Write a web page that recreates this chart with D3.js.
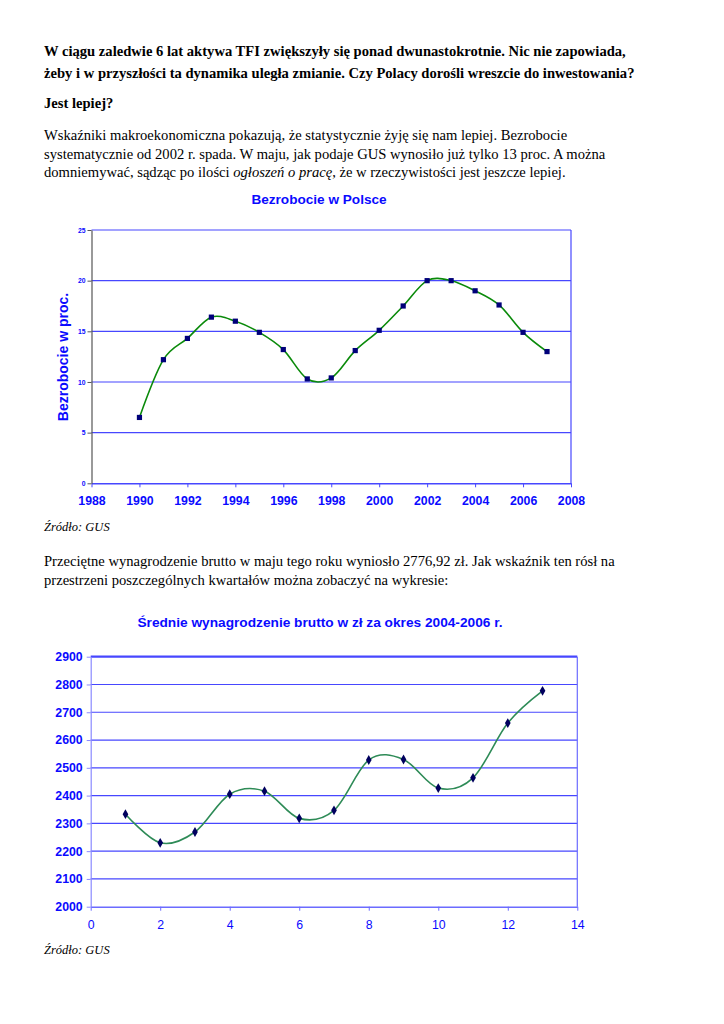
<!DOCTYPE html>
<html><head><meta charset="utf-8">
<script src="https://cdn.jsdelivr.net/npm/d3@7"></script>
<style>
html,body{margin:0;padding:0;background:#fff;}
svg{display:block;}
</style></head>
<body>
<script>
// ---------- data ----------
const unempYears = [1990,1991,1992,1993,1994,1995,1996,1997,1998,1999,2000,2001,2002,2003,2004,2005,2006,2007];
const unempValues = [6.5,12.2,14.3,16.4,16.0,14.9,13.2,10.3,10.4,13.1,15.1,17.5,20.0,20.0,19.0,17.6,14.9,13.0];
const unempXTicks = [1988,1990,1992,1994,1996,1998,2000,2002,2004,2006,2008];
const unempYTicks = [0,5,10,15,20,25];

const wageQuarters = [1,2,3,4,5,6,7,8,9,10,11,12,13];
const wageValues = [2333,2230,2269,2405,2416,2318,2347,2528,2530,2427,2464,2661,2777];
const wageXTicks = [0,2,4,6,8,10,12,14];
const wageYTicks = [2000,2100,2200,2300,2400,2500,2600,2700,2800,2900];

const headLines = [
 "W ciągu zaledwie 6 lat aktywa TFI zwiększyły się ponad dwunastokrotnie. Nic nie zapowiada,",
 "żeby i w przyszłości ta dynamika uległa zmianie. Czy Polacy dorośli wreszcie do inwestowania?"
];

const W = 724, H = 1024;
const svg = d3.select("body").append("svg").attr("width", W).attr("height", H);
svg.append("rect").attr("width", W).attr("height", H).attr("fill", "#fff");

const serif = "'Liberation Serif','Times New Roman',serif";
const sans = "'Liberation Sans',Arial,sans-serif";
const BLUE = "#0a0aff";
const GRID = "#4747ff";
const FS = 14.6;

// ---------- text ----------
const tx = 44;
headLines.forEach((t,i)=>{
  svg.append("text").attr("x",tx).attr("y",56+i*22).attr("font-family",serif)
     .attr("font-size",FS).attr("font-weight","bold").text(t);
});
svg.append("text").attr("x",tx).attr("y",108).attr("font-family",serif)
   .attr("font-size",FS).attr("font-weight","bold").text("Jest lepiej?");

const p1 = svg.append("g").attr("font-family",serif).attr("font-size",FS);
p1.append("text").attr("x",tx).attr("y",140).text("Wskaźniki makroekonomiczna pokazują, że statystycznie żyję się nam lepiej. Bezrobocie");
p1.append("text").attr("x",tx).attr("y",159).text("systematycznie od 2002 r. spada. W maju, jak podaje GUS wynosiło już tylko 13 proc. A można");
const l3 = p1.append("text").attr("x",tx).attr("y",177);
l3.append("tspan").text("domniemywać, sądząc po ilości ");
l3.append("tspan").attr("font-style","italic").text("ogłoszeń o pracę");
l3.append("tspan").text(", że w rzeczywistości jest jeszcze lepiej.");

svg.append("text").attr("x",tx).attr("y",531).attr("font-family",serif)
   .attr("font-size",12.5).attr("font-style","italic").text("Źródło: GUS");

const p2 = svg.append("g").attr("font-family",serif).attr("font-size",FS);
p2.append("text").attr("x",tx).attr("y",566).text("Przeciętne wynagrodzenie brutto w maju tego roku wyniosło 2776,92 zł. Jak wskaźnik ten rósł na");
p2.append("text").attr("x",tx).attr("y",585).text("przestrzeni poszczególnych kwartałów można zobaczyć na wykresie:");

svg.append("text").attr("x",tx).attr("y",954).attr("font-family",serif)
   .attr("font-size",12.5).attr("font-style","italic").text("Źródło: GUS");

// ---------- chart 1 ----------
{
  const x = d3.scaleLinear().domain([1988,2008]).range([91.5,571]);
  const y = d3.scaleLinear().domain([0,25]).range([483.3,230]);
  const g = svg.append("g");

  g.selectAll("line.grid").data(unempYTicks.filter(d=>d>0)).join("line")
   .attr("x1",x(1988)).attr("x2",x(2008)).attr("y1",d=>y(d)).attr("y2",d=>y(d))
   .attr("stroke",GRID).attr("stroke-width",1.2);
  g.append("line").attr("x1",x(2008)).attr("x2",x(2008)).attr("y1",y(25)).attr("y2",y(0))
   .attr("stroke",GRID).attr("stroke-width",1.2);

  const xa = g.append("g").attr("transform",`translate(0,${y(0)})`)
    .call(d3.axisBottom(x).tickValues(unempXTicks).tickFormat(d3.format("d")).tickSize(4).tickSizeOuter(0));
  xa.select(".domain").attr("stroke",GRID).attr("stroke-width",1.5);
  xa.selectAll(".tick line").attr("stroke",GRID);
  xa.selectAll(".tick text").attr("fill",BLUE).attr("font-family",sans).attr("font-weight","bold")
    .attr("font-size",12.3).attr("y",10).attr("dy","0.95em");

  const ya = g.append("g").attr("transform",`translate(${x(1988)},0)`)
    .call(d3.axisLeft(y).tickValues(unempYTicks).tickSize(4).tickSizeOuter(0));
  ya.select(".domain").attr("stroke","#555").attr("stroke-width",1.2);
  ya.selectAll(".tick line").attr("stroke","#555");
  ya.selectAll(".tick text").attr("fill",BLUE).attr("font-family",sans).attr("font-weight","bold")
    .attr("font-size",6.8).attr("x",-6);

  const line = d3.line().x((d,i)=>x(unempYears[i])).y(d=>y(d)).curve(d3.curveCardinal.tension(0));
  g.append("path").datum(unempValues).attr("d",line).attr("fill","none")
   .attr("stroke","#0a8a0a").attr("stroke-width",1.6);
  g.selectAll("rect.m").data(unempValues).join("rect")
   .attr("x",(d,i)=>x(unempYears[i])-2.6).attr("y",d=>y(d)-2.6)
   .attr("width",5.2).attr("height",5.2).attr("fill","#00007a");

  svg.append("text").attr("x",319).attr("y",204).attr("text-anchor","middle")
    .attr("font-family",sans).attr("font-weight","bold").attr("font-size",13.6).attr("fill",BLUE)
    .text("Bezrobocie w Polsce");
  svg.append("text").attr("transform","translate(68,357) rotate(-90)").attr("text-anchor","middle")
    .attr("font-family",sans).attr("font-weight","bold").attr("font-size",14).attr("fill",BLUE)
    .text("Bezrobocie w proc.");
}

// ---------- chart 2 ----------
{
  const x = d3.scaleLinear().domain([0,14]).range([90.7,577.3]);
  const y = d3.scaleLinear().domain([2000,2900]).range([906.7,656.7]);
  const g = svg.append("g");

  g.selectAll("line.grid").data(wageYTicks.filter(d=>d>2000)).join("line")
   .attr("x1",x(0)).attr("x2",x(14)).attr("y1",d=>y(d)).attr("y2",d=>y(d))
   .attr("stroke",GRID).attr("stroke-width",d=>d===2900?2.2:1.2);
  g.append("line").attr("x1",x(14)).attr("x2",x(14)).attr("y1",y(2900)).attr("y2",y(2000))
   .attr("stroke","#6b6bff").attr("stroke-width",1.2);

  const xa = g.append("g").attr("transform",`translate(0,${y(2000)})`)
    .call(d3.axisBottom(x).tickValues(wageXTicks).tickSize(4).tickSizeOuter(0));
  xa.select(".domain").attr("stroke","#6b6bff").attr("stroke-width",1.5);
  xa.selectAll(".tick line").attr("stroke","#6b6bff");
  xa.selectAll(".tick text").attr("fill",BLUE).attr("font-family",sans)
    .attr("font-size",12.3).attr("y",11).attr("dy","0.95em");

  const ya = g.append("g").attr("transform",`translate(${x(0)},0)`)
    .call(d3.axisLeft(y).tickValues(wageYTicks).tickFormat(d3.format("d")).tickSize(4).tickSizeOuter(0));
  ya.select(".domain").attr("stroke","#8a8aff").attr("stroke-width",1.2);
  ya.selectAll(".tick line").attr("stroke","#8a8aff");
  ya.selectAll(".tick text").attr("fill",BLUE).attr("font-family",sans).attr("font-weight","bold")
    .attr("font-size",12.3).attr("x",-8);

  const line = d3.line().x((d,i)=>x(wageQuarters[i])).y(d=>y(d)).curve(d3.curveCardinal.tension(0));
  g.append("path").datum(wageValues).attr("d",line).attr("fill","none")
   .attr("stroke","#2e8b57").attr("stroke-width",1.6);
  g.selectAll("path.m").data(wageValues).join("path")
   .attr("transform",(d,i)=>`translate(${x(wageQuarters[i])},${y(d)})`)
   .attr("d",d3.symbol().type(d3.symbolDiamond).size(28)).attr("fill","#00005e");

  svg.append("text").attr("x",320).attr("y",627).attr("text-anchor","middle")
    .attr("font-family",sans).attr("font-weight","bold").attr("font-size",13.7).attr("fill",BLUE)
    .text("Średnie wynagrodzenie brutto w zł za okres 2004-2006 r.");
}
</script>
</body></html>
